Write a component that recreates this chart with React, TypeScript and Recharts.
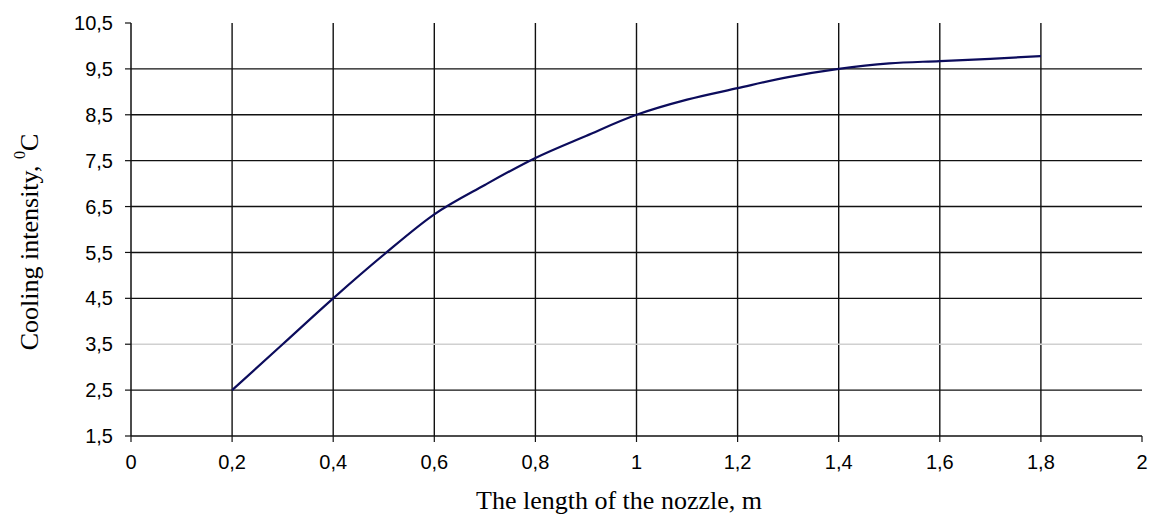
import React from "react";
import { LineChart, Line, XAxis, YAxis, ReferenceLine } from "recharts";

const nozzleLength = [0.2, 0.3, 0.4, 0.5, 0.6, 0.7, 0.8, 0.9, 1.0, 1.1, 1.2, 1.3, 1.4, 1.5, 1.6, 1.7, 1.8];
const coolingIntensity = [2.5, 3.5, 4.5, 5.45, 6.33, 6.97, 7.56, 8.04, 8.5, 8.83, 9.08, 9.32, 9.5, 9.62, 9.67, 9.72, 9.78];
const xTicks = [0, 0.2, 0.4, 0.6, 0.8, 1, 1.2, 1.4, 1.6, 1.8, 2];
const yTicks = [1.5, 2.5, 3.5, 4.5, 5.5, 6.5, 7.5, 8.5, 9.5, 10.5];
const hGrid = [2.5, 3.5, 4.5, 5.5, 6.5, 7.5, 8.5, 9.5];
const vGrid = [0.2, 0.4, 0.6, 0.8, 1, 1.2, 1.4, 1.6, 1.8];

const data = nozzleLength.map((x, i) => ({ x, y: coolingIntensity[i] }));
const fmt = (v: number) => String(v).replace(".", ",");

const tickStyle = { fontFamily: "'Liberation Sans', Arial, sans-serif", fontSize: 20, fill: "#000" };
const titleStyle = { fontFamily: "'Liberation Serif', 'Times New Roman', serif", fontSize: 26, fill: "#000" };

const YLabel = () => (
  <text
    x={0}
    y={0}
    transform="translate(29, 242) rotate(-90)"
    textAnchor="middle"
    dominantBaseline="central"
    style={titleStyle}
  >
    Cooling intensity,{" "}
    <tspan fontSize={16} dy={-10}>0</tspan>
    <tspan dy={10}>C</tspan>
  </text>
);

const XLabel = () => (
  <text x={619} y={509} textAnchor="middle" style={titleStyle}>
    The length of the nozzle, m
  </text>
);

export default function App() {
  return (
    <div style={{ position: "absolute", left: 0, top: 0 }}>
      <LineChart width={1156} height={516} data={data} margin={{ top: 23, right: 14, bottom: 50, left: 71 }}>
        {vGrid.map((v) => (
          <ReferenceLine key={"v" + v} x={v} stroke="#111" strokeWidth={1.4} />
        ))}
        {hGrid.map((v) => (
          <ReferenceLine key={"h" + v} y={v} stroke={v === 3.5 ? "#d0d0d0" : "#111"} strokeWidth={1.4} />
        ))}
        <XAxis
          dataKey="x"
          type="number"
          domain={[0, 2]}
          ticks={xTicks}
          tickFormatter={fmt}
          interval={0}
          height={30}
          tickSize={6}
          tickMargin={13}
          axisLine={{ stroke: "#111", strokeWidth: 1.5 }}
          tickLine={{ stroke: "#111", strokeWidth: 1.2 }}
          tick={tickStyle}
          label={<XLabel />}
        />
        <YAxis
          type="number"
          domain={[1.5, 10.5]}
          ticks={yTicks}
          tickFormatter={fmt}
          interval={0}
          width={60}
          tickSize={6}
          tickMargin={12}
          axisLine={{ stroke: "#111", strokeWidth: 1.5 }}
          tickLine={{ stroke: "#111", strokeWidth: 1.2 }}
          tick={tickStyle}
          label={<YLabel />}
        />
        <Line
          type="monotone"
          dataKey="y"
          stroke="#0c0c5c"
          strokeWidth={2.2}
          dot={false}
          isAnimationActive={false}
        />
      </LineChart>
    </div>
  );
}
